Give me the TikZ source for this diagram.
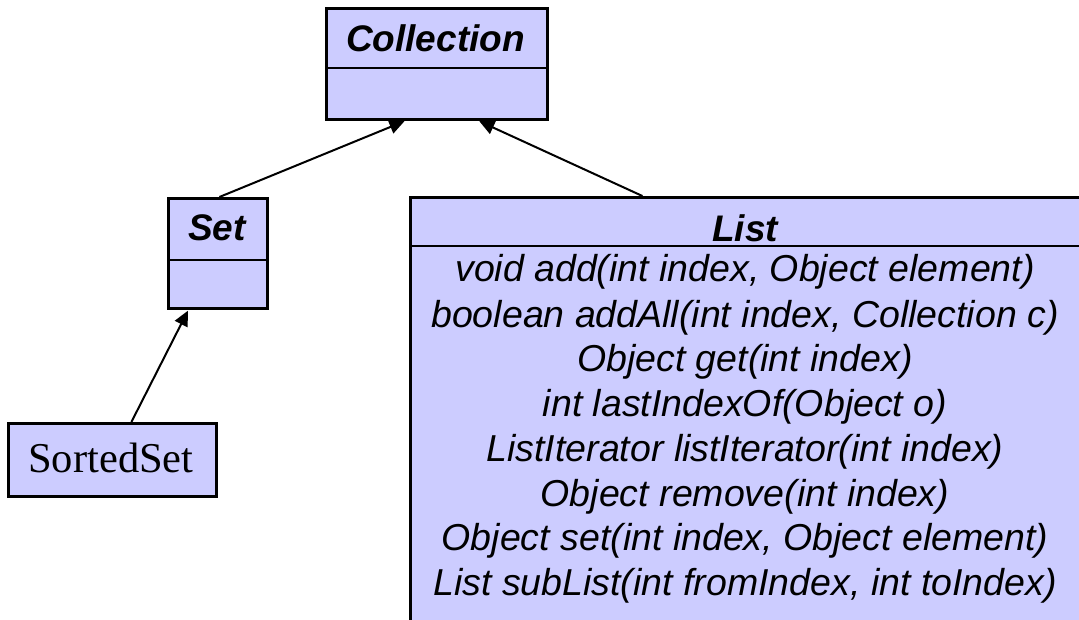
\documentclass[tikz,border=0pt]{standalone}
\usepackage{fontspec}
\setmainfont{Liberation Sans}
\newfontfamily\serifface{Liberation Serif}
\usetikzlibrary{arrows.meta}
\definecolor{umlfill}{RGB}{204,204,255}
\begin{document}
\begin{tikzpicture}[x=1pt,y=-1pt,
  classbox/.style={draw=black, line width=2.8pt, fill=umlfill, inner sep=0pt, anchor=north west},
  divider/.style={line width=2.8pt},
  inherit/.style={line width=2pt, -{Triangle[length=15pt,width=14pt]}, shorten >=1pt},
  classtitle/.style={font=\fontsize{37}{44}\selectfont\bfseries\itshape, inner sep=0pt},
  method/.style={font=\fontsize{37.5}{45}\selectfont\itshape, inner sep=0pt},
]
\useasboundingbox (0,0) rectangle (1079,619);
\clip (0,0) rectangle (1079,619);

% Collection
\node[classbox, minimum width=221pt, minimum height=111pt] (coll) at (325,7) {};
\draw[divider] (325,68) -- (546,68);
\node[classtitle] (colltitle) at (435.5,38) {Collection};

% Set
\node[classbox, minimum width=99pt, minimum height=110pt] (set) at (167,197) {};
\draw[divider] (167,260) -- (266,260);
\node[classtitle] (settitle) at (217,228) {Set};

% SortedSet
\node[classbox, minimum width=208pt, minimum height=73pt] (sorted) at (7,422) {};
\node[font=\serifface\fontsize{42.5}{50}\selectfont, inner sep=0pt] (sortedtitle) at (111,458) {SortedSet};

% List
\node[classbox, minimum width=690pt, minimum height=450pt] (list) at (409,196) {};
\draw[divider] (409,246) -- (1099,246);
\node[classtitle] (listtitle) at (745,228) {List};
\node[method] (m1) at (745,272) {void add(int index, Object element)};
\node[method] (m2) at (745,318) {boolean addAll(int index, Collection c)};
\node[method] (m3) at (745,362) {Object get(int index)};
\node[method] (m4) at (745,407) {int lastIndexOf(Object o)};
\node[method] (m5) at (745,452) {ListIterator listIterator(int index)};
\node[method] (m6) at (745,497) {Object remove(int index)};
\node[method] (m7) at (745,541) {Object set(int index, Object element)};
\node[method] (m8) at (745,586) {List subList(int fromIndex, int toIndex)};

% Generalisations
\draw[inherit] ([xshift=1.5pt]set.north) -- ([xshift=-31.5pt]coll.south);
\draw[inherit] ([xshift=-113pt]list.north) -- ([xshift=41.5pt]coll.south);
\draw[inherit] ([xshift=19pt]sorted.north) -- ([xshift=-29.5pt]set.south);
\end{tikzpicture}
\end{document}
